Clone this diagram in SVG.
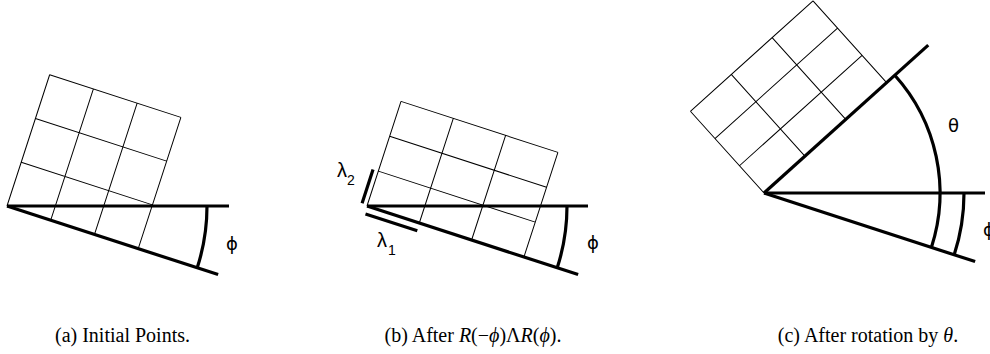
<svg xmlns="http://www.w3.org/2000/svg" width="990" height="354" viewBox="0 0 990 354">
<style>
.grid{fill:none;stroke:#000;stroke-width:1}
.thick{fill:none;stroke:#000;stroke-width:3.2;stroke-linecap:butt}
.lab{font-family:"DejaVu Sans","Liberation Sans",sans-serif;font-size:18px;fill:#000}
.lam{font-family:"Liberation Sans",Arial,sans-serif;font-size:20px;fill:#000}
.sub{font-family:"Liberation Sans",Arial,sans-serif;font-size:14px;fill:#000}
.cap{font-family:"Liberation Serif","DejaVu Serif",serif;font-size:20px;fill:#000}
.it{font-style:italic}
</style>
<rect width="990" height="354" fill="#fff"/>
<g id="panel-a">
  <g transform="translate(7 206) rotate(18)">
    <path class="grid" d="M0,0V-138M46,0V-138M92,0V-138M138,0V-138M0,-46H138M0,-92H138M0,-138H138"/>
    <path class="thick" d="M0,0H222"/>
  </g>
  <path class="thick" d="M7,206H229"/>
  <path class="thick" d="M207,206A200,200 0 0 1 197.21,267.8"/>
  <text class="lab" x="232" y="250" text-anchor="middle">ϕ</text>
</g>
<g id="panel-b">
  <g transform="translate(367 206) rotate(18)">
    <path class="grid" d="M0,0V-110M55,0V-110M110,0V-110M165,0V-110M0,-36.67H165M0,-73.33H165M0,-110H165"/>
    <path class="thick" d="M0,0H222"/>
    <path class="thick" d="M-5.5,-1V-36.5M1,8H55.5"/>
  </g>
  <path class="thick" d="M367,206H588"/>
  <path class="thick" d="M567,206A200,200 0 0 1 557.21,267.8"/>
  <text class="lab" x="593" y="249" text-anchor="middle">ϕ</text>
  <text class="lam" x="337" y="177">λ</text>
  <text class="sub" x="347" y="185">2</text>
  <text class="lam" x="377" y="247">λ</text>
  <text class="sub" x="388" y="255">1</text>
</g>
<g id="panel-c">
  <g transform="translate(764 193) rotate(-42)">
    <path class="grid" d="M0,0V-110M55,0V-110M110,0V-110M165,0V-110M0,-36.67H165M0,-73.33H165M0,-110H165"/>
    <path class="thick" d="M0,0H221"/>
  </g>
  <g transform="translate(764 193) rotate(18)">
    <path class="thick" d="M0,0H222"/>
  </g>
  <path class="thick" d="M764,193H985" style="stroke-width:2.8"/>
  <path class="thick" d="M964,193A200,200 0 0 1 954.21,254.8"/>
  <path class="thick" d="M894.79,75.23A176,176 0 0 1 931.39,247.39"/>
  <text class="lab" x="953.5" y="131.5" text-anchor="middle">θ</text>
  <text class="lab" x="989" y="236" text-anchor="middle">ϕ</text>
</g>
<g id="captions">
  <text class="cap" x="122.5" y="342" text-anchor="middle">(a) Initial Points.</text>
  <text class="cap" x="473" y="342" text-anchor="middle">(b) After <tspan class="it">R</tspan>(−<tspan class="it">ϕ</tspan>)Λ<tspan class="it">R</tspan>(<tspan class="it">ϕ</tspan>).</text>
  <text class="cap" x="868" y="342" text-anchor="middle">(c) After rotation by <tspan class="it">θ</tspan>.</text>
</g>
</svg>
